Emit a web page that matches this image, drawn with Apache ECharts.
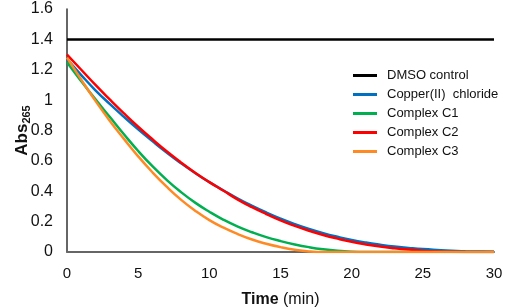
<!DOCTYPE html>
<html>
<head>
<meta charset="utf-8">
<script src="https://cdn.jsdelivr.net/npm/echarts@6/dist/echarts.min.js"></script>
<style>
  html, body { margin: 0; padding: 0; background: #fff; }
  #chart { width: 505px; height: 308px; }
</style>
</head>
<body>
<div id="chart"></div>
<script>
// 时间 (min)
var times = [0, 1, 2, 3, 4, 5, 6, 7, 8, 9, 10, 11, 12, 13, 14, 15, 16, 17, 18, 19, 20, 21, 22, 23, 24, 25, 26, 27, 28, 29, 30];

var dmsoControl = [1.40, 1.40, 1.40, 1.40, 1.40, 1.40, 1.40, 1.40, 1.40, 1.40, 1.40, 1.40, 1.40, 1.40, 1.40, 1.40,
    1.40, 1.40, 1.40, 1.40, 1.40, 1.40, 1.40, 1.40, 1.40, 1.40, 1.40, 1.40, 1.40, 1.40, 1.40];
var copperChloride = [1.27, 1.165, 1.065, 0.975, 0.89, 0.808, 0.73, 0.655, 0.585, 0.52, 0.46, 0.405, 0.352, 0.304, 0.26, 0.22,
    0.184, 0.152, 0.124, 0.10, 0.079, 0.062, 0.048, 0.036, 0.027, 0.019, 0.013, 0.008, 0.005, 0.003, 0.002];
var complexC1 = [1.25, 1.125, 1.005, 0.89, 0.775, 0.665, 0.565, 0.475, 0.395, 0.325, 0.265, 0.212, 0.167, 0.13, 0.098, 0.072,
    0.05, 0.032, 0.018, 0.008, 0.002, 0, 0, 0, 0, 0, 0, 0, 0, 0, 0];
var complexC2 = [1.30, 1.20, 1.10, 1.005, 0.913, 0.825, 0.742, 0.663, 0.59, 0.522, 0.46, 0.403, 0.345, 0.295, 0.25, 0.208,
    0.172, 0.14, 0.112, 0.088, 0.067, 0.05, 0.036, 0.025, 0.016, 0.009, 0.004, 0.001, 0, 0, 0];
var complexC3 = [1.28, 1.135, 0.995, 0.865, 0.745, 0.63, 0.525, 0.43, 0.345, 0.272, 0.21, 0.16, 0.118, 0.082, 0.054, 0.032,
    0.015, 0.004, 0, 0, 0, 0, 0, 0, 0, 0, 0, 0, 0, 0, 0];

var seriesNames = ['DMSO control', 'Copper(II)  chloride', 'Complex C1', 'Complex C2', 'Complex C3'];
var seriesColors = ['#000000', '#0070C0', '#00B050', '#FF0000', '#FF8A24'];
var seriesValues = [dmsoControl, copperChloride, complexC1, complexC2, complexC3];

function pairs(values) {
    return times.map(function (t, i) { return [t, values[i]]; });
}

var myChart = echarts.init(document.getElementById('chart'));

var option = {
    animation: false,
    textStyle: { fontFamily: 'Liberation Sans, Arial, sans-serif' },
    grid: { left: 67, right: 11, top: 9, bottom: 56, outerBoundsMode: 'none', containLabel: false },
    legend: {
        orient: 'vertical',
        left: 353,
        top: 69,
        padding: 0,
        itemWidth: 24,
        itemHeight: 3,
        itemGap: 6,
        icon: 'rect',
        data: seriesNames,
        textStyle: { color: '#111', fontSize: 13, fontFamily: 'Liberation Sans, Arial, sans-serif', padding: [0, 0, 0, 5] }
    },
    xAxis: {
        type: 'value',
        min: 0,
        max: 30,
        interval: 5,
        name: '{b|Time} (min)',
        nameLocation: 'middle',
        nameGap: 40,
        nameMoveOverlap: false,
        nameTextStyle: {
            color: '#111',
            fontSize: 16,
            rich: { b: { fontWeight: 'bold', fontSize: 16, color: '#111' } }
        },
        axisLine: { show: true, lineStyle: { color: '#666', width: 2 } },
        axisTick: { show: false },
        axisLabel: { color: '#111', fontSize: 15, margin: 14 },
        splitLine: { show: false }
    },
    yAxis: {
        type: 'value',
        min: 0,
        max: 1.6,
        interval: 0.2,
        name: '{b|Abs}{s|265}',
        nameLocation: 'middle',
        nameRotate: 90,
        nameGap: 35,
        nameMoveOverlap: false,
        nameTextStyle: {
            color: '#111',
            rich: {
                b: { fontWeight: 'bold', fontSize: 17, color: '#111' },
                s: { fontWeight: 'bold', fontSize: 11, color: '#111', padding: [9, 0, 0, 0] }
            }
        },
        axisLine: { show: true, lineStyle: { color: '#333', width: 1.5 } },
        axisTick: { show: false },
        axisLabel: { color: '#111', fontSize: 16, margin: 14 },
        splitLine: { show: false }
    },
    series: seriesNames.map(function (name, i) {
        return {
            name: name,
            type: 'line',
            data: pairs(seriesValues[i]),
            smooth: true,
            showSymbol: false,
            symbol: 'none',
            itemStyle: { color: seriesColors[i] },
            lineStyle: { color: seriesColors[i], width: 2.5 }
        };
    })
};

myChart.setOption(option);
</script>
</body>
</html>
